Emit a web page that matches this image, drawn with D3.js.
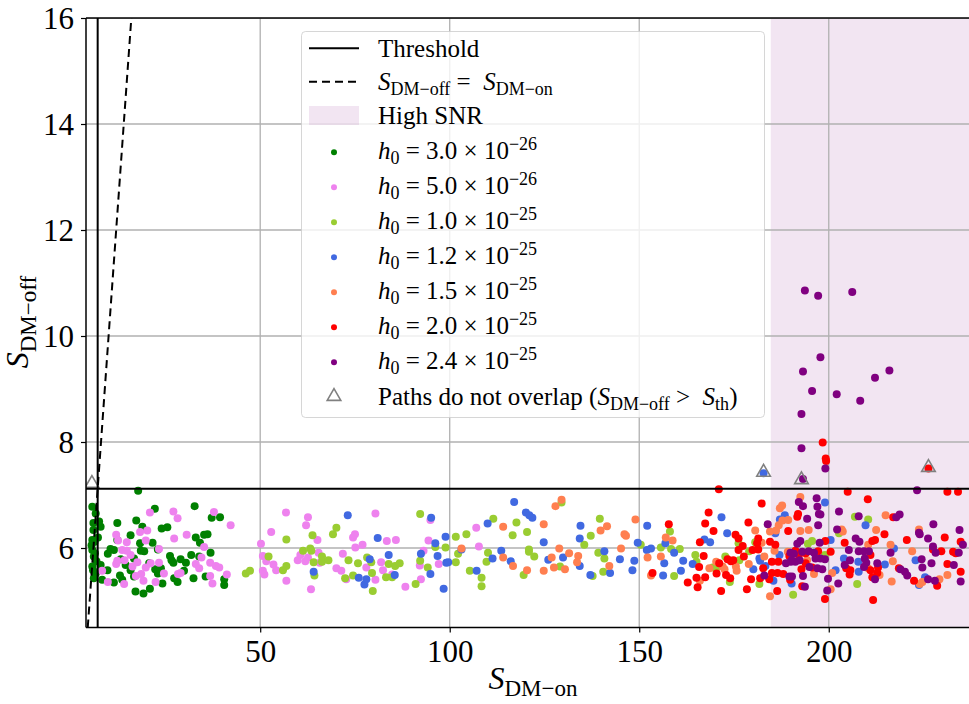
<!DOCTYPE html>
<html>
<head>
<meta charset="utf-8">
<script src="https://cdn.jsdelivr.net/npm/d3@7"></script>
<style>
  html, body { margin: 0; padding: 0; background: #fff; }
  svg { display: block; font-family: "Liberation Serif", "DejaVu Serif", serif; }
</style>
</head>
<body>
<svg id="chart" width="969" height="704"></svg>
<script>
// ---------------- DATA ----------------
const X_TICKS = [50, 100, 150, 200];
const Y_TICKS = [6, 8, 10, 12, 14, 16];
const X_DOMAIN = [4.04, 237];
const Y_DOMAIN = [4.5, 16];
const S_TH = 7.12;            // threshold
const HIGH_SNR_START = 184.7; // start of high SNR band

const h0_mant = ["3.0", "5.0", "1.0", "1.2", "1.5", "2.0", "2.4"];
const h0_exp  = ["\u221226", "\u221226", "\u221225", "\u221225", "\u221225", "\u221225", "\u221225"];
const seriesColors = ["green", "violet", "yellowgreen", "royalblue", "coral", "red", "purple"];

const h0_3_0e26 = [[17.8,7.08],[5.7,6.78],[6.6,6.65],[6.0,6.47],[7.5,6.5],[7.9,6.4],[6.0,6.34],[5.7,6.15],[5.7,5.96],[6.1,5.84],[5.7,5.65],[6.6,5.52],[6.1,5.43],[8.3,5.40],[7.9,5.68],[22.2,6.74],[32.7,6.79],[37.2,6.57],[39.4,6.58],[12.3,6.47],[17.3,6.52],[18.9,6.40],[24.0,6.37],[25.5,6.39],[15.8,6.24],[12.3,6.15],[21.6,6.10],[18.3,6.09],[10.5,5.98],[11.4,5.96],[9.8,5.89],[18.5,5.95],[19.4,5.94],[23.0,5.97],[13.2,5.79],[16.7,5.80],[26.2,5.85],[26.6,5.77],[29.0,5.79],[31.8,5.87],[33.9,5.84],[36.9,5.91],[33.0,6.20],[34.1,6.10],[35.2,6.25],[36.1,6.26],[14.5,5.68],[15.8,5.58],[20.7,5.71],[22.3,5.60],[23.8,5.62],[23.0,5.52],[27.1,5.72],[30.4,5.72],[27.3,5.43],[28.2,5.36],[29.9,5.57],[32.4,5.43],[35.6,5.46],[40.5,5.41],[40.5,5.30],[13.0,5.48],[13.6,5.40],[11.4,5.35],[17.1,5.18],[19.2,5.14],[20.9,5.23],[24.2,5.33],[9.7,5.58],[16.7,5.46],[6.3,6.12],[5.5,6.05],[6.8,5.75],[5.9,5.58],[7.2,6.2],[6.4,5.9]];

const h0_5_0e26 = [[20.9,6.67],[27.1,6.69],[28.2,6.56],[37.8,6.68],[42.2,6.43],[20.2,6.33],[18.3,6.30],[12.0,6.25],[12.5,6.14],[14.8,6.11],[19.8,6.14],[27.3,6.18],[30.6,6.25],[35.2,6.02],[13.6,5.96],[14.8,5.95],[23.3,5.98],[15.8,5.87],[14.2,5.77],[12.3,5.76],[12.0,5.70],[16.3,5.65],[17.6,5.73],[19.8,5.63],[21.1,5.71],[23.3,5.72],[18.6,5.51],[24.6,5.52],[28.3,5.51],[29.0,5.53],[33.0,5.70],[33.9,5.62],[34.5,5.82],[36.8,5.72],[38.3,5.66],[39.2,5.63],[36.8,5.47],[37.4,5.33],[41.2,5.50],[17.2,5.47],[19.2,5.38],[22.4,5.36],[14.1,5.32],[9.8,5.36],[8.3,5.57],[50.2,6.08],[56.8,6.67],[62.6,6.58],[62.1,6.43],[52.9,6.30],[65.1,6.15],[50.7,5.85],[51.6,5.75],[53.5,5.69],[54.2,5.58],[50.7,5.57],[51.1,5.50],[56.9,5.38],[59.9,5.77],[60.6,5.87],[62.6,5.82],[61.9,5.75],[65.4,5.91],[65.7,5.72],[63.4,5.22],[71.8,5.89],[70.1,5.62],[71.4,5.57],[72.7,5.41],[74.5,6.20],[75.0,6.26],[75.1,6.01],[77.0,6.06],[80.4,6.65],[78.0,5.63],[80.4,5.40],[81.9,5.73],[82.4,5.58],[83.4,6.13],[85.8,6.15],[84.8,5.50],[88.3,5.27],[92.1,5.67],[92.4,5.41],[93.1,5.95],[94.4,6.14],[94.9,6.53],[97.1,5.70],[107.0,6.38],[107.7,6.03]];

const h0_1_0e25 = [[46.2,5.52],[47.3,5.57],[56.9,6.16],[52.2,5.84],[56.0,5.58],[56.9,5.66],[61.3,5.95],[63.2,5.99],[63.5,5.95],[63.8,6.24],[64.1,5.73],[64.3,5.48],[66.3,5.84],[66.3,5.74],[68.0,5.77],[69.2,6.26],[70.1,6.38],[72.4,5.43],[73.3,5.77],[74.5,5.48],[75.8,5.71],[78.2,5.82],[79.3,5.73],[79.5,5.53],[79.7,5.19],[83.2,5.45],[83.9,5.70],[84.8,5.45],[85.6,5.66],[86.8,5.71],[92.2,6.64],[92.2,5.76],[94.2,5.63],[91.0,5.32],[96.2,6.02],[101.6,6.21],[104.4,6.26],[98.9,6.01],[102.2,5.89],[101.6,5.73],[105.3,5.57],[108.4,5.44],[108.4,5.28],[109.7,5.74],[110.1,5.91],[111.5,6.55],[116.6,6.24],[117.6,6.48],[120.4,6.30],[120.9,5.97],[120.9,5.93],[122.3,5.84],[119.5,5.49],[129.5,6.86],[129.1,5.65],[135.5,6.06],[137.2,6.23],[139.6,6.55],[139.2,5.91],[140.8,5.80],[140.5,5.55],[137.7,5.47],[158.1,6.31],[150.4,6.06],[155.7,6.01],[158.4,5.98],[160.7,5.98],[159.2,5.47],[164.8,5.87],[165.1,5.74],[169.4,5.63],[170.3,5.62],[172.7,5.84],[173.9,5.36],[176.4,5.77],[176.2,6.09],[180.6,6.11],[179.0,5.94],[181.7,5.32],[190.6,5.12],[206.9,6.59],[210.4,6.54],[194.5,6.08],[195.6,6.13],[202.7,6.28],[199.0,5.87],[207.5,5.32]];

const h0_1_2e25 = [[73.1,6.62],[64.1,5.55],[76.0,5.44],[77.5,5.31],[78.0,5.41],[78.9,5.79],[81.0,6.19],[83.9,5.87],[85.5,5.49],[95.1,6.57],[92.4,5.89],[96.2,6.09],[96.8,5.85],[94.9,5.51],[98.9,6.21],[99.1,5.72],[99.6,5.73],[98.4,5.23],[117.0,6.87],[120.1,6.67],[121.0,6.62],[121.8,6.57],[110.0,6.46],[113.6,5.95],[111.3,5.80],[107.1,5.57],[116.1,5.75],[103.1,5.97],[124.8,6.11],[126.0,5.78],[129.9,5.82],[134.5,6.42],[134.3,6.18],[134.3,5.66],[137.1,5.49],[140.8,5.94],[142.3,5.53],[152.1,6.42],[149.6,6.10],[152.0,5.96],[153.1,5.99],[156.9,6.09],[159.2,5.91],[144.9,5.79],[148.7,5.76],[148.2,5.58],[156.6,5.71],[156.3,5.48],[161.0,5.57],[161.6,5.76],[164.1,5.70],[167.2,6.16],[168.7,6.11],[171.7,6.58],[173.2,6.28],[180.1,5.60],[181.7,5.80],[181.9,5.76],[183.3,5.66],[185.9,6.28],[187.1,6.54],[188.4,6.62],[185.4,5.38],[187.0,5.87],[199.0,6.86],[209.7,6.43],[200.5,6.15],[204.0,5.80],[207.8,5.74],[214.8,5.69],[201.8,5.58],[207.9,5.55],[222.9,5.77],[225.4,5.45],[223.8,5.30],[190.2,5.33],[217.2,5.99],[182.8,7.41]];

const h0_1_5e25 = [[103.1,5.99],[114.1,6.40],[114.1,5.82],[116.7,5.66],[120.4,5.58],[124.8,6.45],[124.8,5.57],[127.9,6.79],[129.5,6.91],[128.9,5.99],[126.9,5.82],[127.5,5.63],[130.4,5.60],[131.5,5.90],[133.9,5.85],[133.6,5.73],[139.8,6.33],[141.5,6.41],[142.1,5.66],[149.0,6.54],[146.1,6.26],[146.5,6.23],[145.2,5.99],[152.2,5.82],[153.1,5.48],[157.0,6.20],[158.8,6.14],[155.7,5.84],[168.5,5.62],[170.3,5.74],[172.0,5.65],[172.5,5.60],[175.5,5.65],[175.7,5.57],[178.9,5.70],[180.6,6.33],[182.3,6.10],[183.0,5.84],[184.5,6.31],[186.1,6.33],[186.8,6.43],[187.7,6.80],[187.1,6.75],[187.8,6.52],[189.3,6.53],[189.2,5.93],[185.7,5.95],[184.5,5.09],[166.0,5.38],[192.5,6.96],[215.0,6.62],[203.4,6.35],[203.7,6.31],[212.5,6.34],[192.5,6.32],[194.7,6.34],[210.4,6.06],[216.3,6.06],[222.0,5.94],[223.8,6.35],[216.9,5.75],[210.4,5.62],[213.4,5.49],[216.6,5.37],[224.0,5.32],[224.7,5.36],[229.2,5.41],[231.3,5.49],[200.5,5.22],[200.9,5.53],[196.1,5.51],[194.3,5.77]];

const h0_2_0e25 = [[171.0,7.11],[182.3,6.84],[168.3,6.67],[167.4,6.46],[157.8,6.45],[169.6,6.32],[178.8,6.48],[175.4,6.25],[176.2,6.18],[166.0,6.11],[177.3,6.04],[176.2,5.96],[181.4,6.18],[181.1,6.09],[179.9,5.96],[181.4,5.97],[184.5,6.12],[185.9,6.06],[189.3,6.32],[167.0,5.85],[171.1,5.71],[173.3,5.79],[174.2,5.75],[174.8,5.77],[165.8,5.64],[170.4,5.52],[167.4,5.45],[165.1,5.44],[162.8,5.35],[165.4,5.26],[153.5,5.53],[172.9,5.49],[174.0,5.43],[171.6,5.19],[177.6,5.84],[178.4,5.22],[179.5,5.41],[182.7,5.62],[181.9,5.43],[185.0,5.74],[186.7,5.74],[185.0,5.53],[186.5,5.53],[188.0,5.51],[184.3,5.41],[186.4,5.19],[189.8,5.40],[189.6,5.85],[205.0,7.06],[231.3,7.06],[234.1,7.06],[210.3,6.92],[191.9,6.64],[191.7,6.59],[217.0,6.58],[199.1,6.13],[204.2,6.10],[211.5,6.13],[212.2,6.15],[214.7,6.26],[220.6,6.15],[230.6,6.20],[234.8,6.12],[191.2,5.95],[193.9,5.90],[197.2,5.94],[200.5,5.93],[211.0,5.87],[227.5,5.97],[229.7,5.94],[232.8,5.93],[233.5,5.90],[192.1,5.87],[193.9,5.71],[192.8,5.60],[195.6,5.63],[204.6,5.62],[205.7,5.58],[205.5,5.50],[211.0,5.58],[212.8,5.53],[211.5,5.45],[213.0,5.63],[193.0,5.28],[199.0,5.04],[211.7,5.02],[222.5,5.38],[228.6,5.29],[231.3,5.70],[234.8,5.55],[218.5,5.62],[198.4,7.99],[199.2,7.69],[199.3,7.64],[226.3,7.50]];

const h0_2_4e25 = [[183.9,6.45],[188.7,5.71],[190.0,5.74],[183.0,5.48],[189.6,5.46],[223.3,7.09],[196.8,6.94],[192.1,6.87],[193.2,6.79],[197.0,6.78],[197.4,6.64],[197.8,6.63],[194.3,6.55],[202.7,6.69],[207.9,6.60],[217.8,6.58],[218.7,6.63],[197.2,6.43],[202.2,6.35],[227.6,6.45],[223.8,6.29],[224.0,6.26],[226.2,6.18],[234.5,6.34],[235.4,6.06],[207.1,6.18],[208.1,6.12],[192.5,6.13],[191.7,6.08],[197.6,6.10],[205.3,5.96],[207.9,5.94],[209.3,5.94],[210.6,5.94],[216.3,5.91],[227.5,6.03],[228.2,5.91],[234.3,5.91],[189.9,5.91],[190.8,5.89],[193.0,5.93],[194.7,5.94],[196.1,5.91],[190.2,5.77],[191.2,5.74],[192.3,5.77],[196.5,5.80],[197.8,5.80],[199.0,5.79],[204.2,5.68],[205.6,5.77],[209.5,5.80],[209.9,5.72],[209.3,5.64],[194.9,5.64],[197.0,5.62],[198.3,5.60],[212.8,5.71],[212.2,5.41],[218.9,5.60],[220.1,5.55],[220.7,5.48],[224.5,5.79],[224.7,5.63],[227.1,5.71],[226.2,5.41],[228.0,5.38],[233.0,5.68],[234.8,5.37],[190.3,5.46],[193.2,5.47],[199.8,5.42],[202.5,5.33],[199.6,5.20],[193.7,5.27],[193.7,10.86],[197.2,10.76],[206.2,10.83],[197.8,9.60],[193.2,9.33],[212.2,9.21],[216.0,9.35],[195.6,8.96],[202.1,8.90],[208.3,8.78],[192.8,8.53],[192.8,7.88],[199.1,7.50],[193.2,7.30]];

const noOverlap = [[5.6,7.2],[182.8,7.41],[192.8,7.27],[226.3,7.50]];

const seriesData = [h0_3_0e26, h0_5_0e26, h0_1_0e25, h0_1_2e25, h0_1_5e25, h0_2_0e25, h0_2_4e25];

// ---------------- LAYOUT ----------------
const svg = d3.select("#chart");
const L = 86, R = 969, T = 18, B = 627.5;
const FONT = '"Liberation Serif", "DejaVu Serif", serif';

const x = d3.scaleLinear().domain(X_DOMAIN).range([L, R]);
const y = d3.scaleLinear().domain(Y_DOMAIN).range([B, T]);

svg.append("defs").append("clipPath").attr("id", "clip")
  .append("rect").attr("x", L).attr("y", T).attr("width", R - L).attr("height", B - T);

const plot = svg.append("g").attr("clip-path", "url(#clip)");

// High SNR band
plot.append("rect")
  .attr("x", x(HIGH_SNR_START)).attr("y", T)
  .attr("width", x(X_DOMAIN[1]) - x(HIGH_SNR_START) + 2).attr("height", B - T)
  .attr("fill", "purple").attr("fill-opacity", 0.1);

// grid
plot.append("g").selectAll("line").data(X_TICKS).join("line")
  .attr("x1", d => x(d)).attr("x2", d => x(d)).attr("y1", T).attr("y2", B)
  .attr("stroke", "#b0b0b0").attr("stroke-width", 1.3);
plot.append("g").selectAll("line").data(Y_TICKS).join("line")
  .attr("y1", d => y(d)).attr("y2", d => y(d)).attr("x1", L).attr("x2", R)
  .attr("stroke", "#b0b0b0").attr("stroke-width", 1.3);

// scatter
seriesData.forEach((arr, i) => {
  plot.append("g").selectAll("circle").data(arr).join("circle")
    .attr("cx", d => x(d[0])).attr("cy", d => y(d[1]))
    .attr("r", 4).attr("fill", seriesColors[i]);
});

// triangles
const tri = d3.symbol().type(d3.symbolTriangle).size(80);
plot.append("g").selectAll("path").data(noOverlap).join("path")
  .attr("d", tri)
  .attr("transform", d => `translate(${x(d[0])},${y(d[1]) - 1})`)
  .attr("fill", "none").attr("stroke", "#808080").attr("stroke-width", 1.6);

// threshold lines
plot.append("line").attr("x1", x(S_TH)).attr("x2", x(S_TH)).attr("y1", T).attr("y2", B)
  .attr("stroke", "black").attr("stroke-width", 2);
plot.append("line").attr("x1", L).attr("x2", R).attr("y1", y(S_TH)).attr("y2", y(S_TH))
  .attr("stroke", "black").attr("stroke-width", 2);

// S_off = S_on
plot.append("line")
  .attr("x1", x(Y_DOMAIN[0])).attr("y1", y(Y_DOMAIN[0]))
  .attr("x2", x(Y_DOMAIN[1])).attr("y2", y(Y_DOMAIN[1]))
  .attr("stroke", "black").attr("stroke-width", 2).attr("stroke-dasharray", "8,5");

// spines
svg.append("line").attr("x1", L).attr("x2", L).attr("y1", T).attr("y2", B).attr("stroke", "black").attr("stroke-width", 1.5);
svg.append("line").attr("x1", L).attr("x2", R).attr("y1", B).attr("y2", B).attr("stroke", "black").attr("stroke-width", 1.5);
svg.append("line").attr("x1", L).attr("x2", R).attr("y1", T).attr("y2", T).attr("stroke", "black").attr("stroke-width", 1.5);

// axes
const xAxis = svg.append("g").attr("transform", `translate(0,${B})`)
  .call(d3.axisBottom(x).tickValues(X_TICKS).tickSize(5).tickFormat(d3.format("d")));
xAxis.select(".domain").remove();
xAxis.selectAll("line").attr("stroke", "black").attr("stroke-width", 1.2);
xAxis.selectAll("text").attr("y", 34).attr("dy", 0)
  .attr("font-family", FONT).attr("font-size", 31).attr("fill", "#000");

const yAxis = svg.append("g").attr("transform", `translate(${L},0)`)
  .call(d3.axisLeft(y).tickValues(Y_TICKS).tickSize(5).tickPadding(7).tickFormat(d3.format("d")));
yAxis.select(".domain").remove();
yAxis.selectAll("line").attr("stroke", "black").attr("stroke-width", 1.2);
yAxis.selectAll("text").attr("dy", "0.34em")
  .attr("font-family", FONT).attr("font-size", 31).attr("fill", "#000");

// math text helper
function mathText(sel, parts, size, subShift, supShift) {
  let cur = 0;
  parts.forEach(([t, kind]) => {
    let target = 0, fs = size, italic = false;
    if (kind === "i") italic = true;
    if (kind === "sub") { target = subShift; fs = size * 0.72; }
    if (kind === "sup") { target = -supShift; fs = size * 0.72; }
    sel.append("tspan").attr("dy", target - cur).attr("font-size", fs)
      .attr("font-style", italic ? "italic" : "normal").text(t);
    cur = target;
  });
  return sel;
}
const NB = "\u00A0";

// axis labels
mathText(svg.append("text").attr("x", 533).attr("y", 689).attr("text-anchor", "middle")
  .attr("font-family", FONT).attr("fill", "#000"),
  [["S", "i"], ["DM\u2212on", "sub"]], 32, 7, 0);

mathText(svg.append("text").attr("transform", "translate(28,322) rotate(-90)").attr("text-anchor", "middle")
  .attr("font-family", FONT).attr("fill", "#000"),
  [["S", "i"], ["DM\u2212off", "sub"]], 32, 8, 0);

// ---------------- LEGEND ----------------
const lg = svg.append("g");
lg.append("rect").attr("x", 301.5).attr("y", 31.5).attr("width", 463).attr("height", 386).attr("rx", 4)
  .attr("fill", "white").attr("fill-opacity", 0.8).attr("stroke", "#cccccc").attr("stroke-opacity", 0.8).attr("stroke-width", 1);

const HX0 = 309, HX1 = 359, HXC = 334, TX = 378, LFS = 25;

// Threshold
lg.append("line").attr("x1", HX0).attr("x2", HX1).attr("y1", 48.3).attr("y2", 48.3).attr("stroke", "black").attr("stroke-width", 2);
lg.append("text").attr("x", TX).attr("y", 57).attr("font-family", FONT).attr("font-size", LFS).text("Threshold");

// dashed
lg.append("line").attr("x1", HX0).attr("x2", HX1).attr("y1", 81.7).attr("y2", 81.7).attr("stroke", "black").attr("stroke-width", 2).attr("stroke-dasharray", "8,5");
mathText(lg.append("text").attr("x", TX).attr("y", 90).attr("font-family", FONT),
  [["S", "i"], ["DM\u2212off", "sub"], [NB + "=" + NB + NB, "n"], ["S", "i"], ["DM\u2212on", "sub"]], LFS, 4.5, 0);

// High SNR
lg.append("rect").attr("x", HX0).attr("y", 106).attr("width", HX1 - HX0).attr("height", 19).attr("fill", "purple").attr("fill-opacity", 0.1);
lg.append("text").attr("x", TX).attr("y", 124).attr("font-family", FONT).attr("font-size", LFS).text("High SNR");

// series entries
seriesColors.forEach((c, i) => {
  const cy = 152.3 + 35 * i;
  lg.append("circle").attr("cx", HXC).attr("cy", cy).attr("r", 3).attr("fill", c);
  mathText(lg.append("text").attr("x", TX).attr("y", cy + 7).attr("font-family", FONT),
    [["h", "i"], ["0", "sub"], [NB + "=" + NB + h0_mant[i] + NB + "\u00D7" + NB + "10", "n"], [h0_exp[i], "sup"]],
    LFS, 4.5, 9.5);
});

// triangles entry
lg.append("path").attr("d", tri).attr("transform", `translate(${HXC},396.5)`)
  .attr("fill", "none").attr("stroke", "#808080").attr("stroke-width", 1.6);
mathText(lg.append("text").attr("x", TX).attr("y", 405).attr("font-family", FONT),
  [["Paths do not overlap (", "n"], ["S", "i"], ["DM\u2212off", "sub"], [NB + ">" + NB + NB, "n"], ["S", "i"], ["th", "sub"], [")", "n"]],
  LFS, 4.5, 0);
</script>
</body>
</html>
